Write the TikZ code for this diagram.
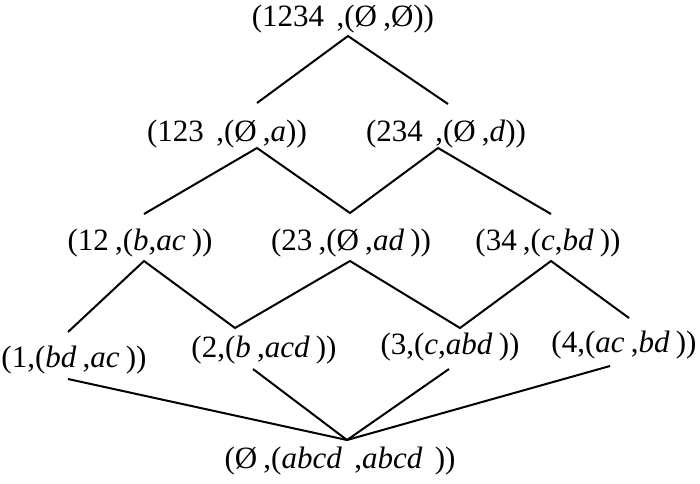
\documentclass[tikz,border=0pt]{standalone}
\usepackage{fontspec}
\setmainfont{Liberation Serif}
\newcommand{\vi}[1]{\textit{#1}}
\newcommand{\gp}{\hspace{0.2em}}
\begin{document}
\begin{tikzpicture}[x=1pt,y=-1pt,
  lbl/.style={inner sep=0pt, anchor=center, font=\fontsize{31}{34}\selectfont},
  edge/.style={line width=2pt}]
\useasboundingbox (0,0) rectangle (700,483);
% labels
\node[lbl] (n1234) at (343,19) {(1234\gp\gp,(Ø\gp,Ø))};
\node[lbl] (n123) at (227,134) {(123\gp\gp,(Ø\gp,\vi{a}))};
\node[lbl] (n234) at (446,134) {(234\gp\gp,(Ø\gp,\vi{d}))};
\node[lbl] (n12) at (140,243) {(12\gp,(\vi{b},\vi{ac}\gp))};
\node[lbl] (n23) at (351,243) {(23\gp,(Ø\gp,\vi{ad}\gp))};
\node[lbl] (n34) at (548,243) {(34\gp,(\vi{c},\vi{bd}\gp))};
\node[lbl] (n1) at (74,360) {(1,(\vi{bd}\gp,\vi{ac}\gp))};
\node[lbl] (n2) at (264,350) {(2,(\vi{b}\gp,\vi{acd}\gp))};
\node[lbl] (n3) at (450,347) {(3,(\vi{c},\vi{abd}\gp))};
\node[lbl] (n4) at (624,345) {(4,(\vi{ac}\gp,\vi{bd}\gp))};
\node[lbl] (n0) at (340,461) {(Ø\gp,(\vi{abcd}\gp\gp,\vi{abcd}\gp\gp))};
% connector end points
\coordinate (b1234) at (348,36);
\coordinate (t123) at (257,103);
\coordinate (b123) at (257,148);
\coordinate (t234) at (448,104);
\coordinate (b234) at (438,148);
\coordinate (t12) at (144,214);
\coordinate (b12) at (144,261);
\coordinate (t23) at (350,213);
\coordinate (b23) at (350,261);
\coordinate (t34) at (551,214);
\coordinate (b34) at (551,261);
\coordinate (t1) at (68,332);
\coordinate (b1) at (68,379);
\coordinate (t2) at (235,328);
\coordinate (b2) at (253,369);
\coordinate (t3) at (460,328);
\coordinate (b3) at (449,369);
\coordinate (t4) at (629,318);
\coordinate (b4) at (610,366);
\coordinate (t0) at (347,440);
% edges
\draw[edge] (t123) -- (b1234) -- (t234);
\draw[edge] (t12) -- (b123) -- (t23) -- (b234) -- (t34);
\draw[edge] (t1) -- (b12) -- (t2) -- (b23) -- (t3) -- (b34) -- (t4);
\draw[edge] (b1) -- (t0);
\draw[edge] (b2) -- (t0);
\draw[edge] (b3) -- (t0);
\draw[edge] (b4) -- (t0);
\end{tikzpicture}
\end{document}
